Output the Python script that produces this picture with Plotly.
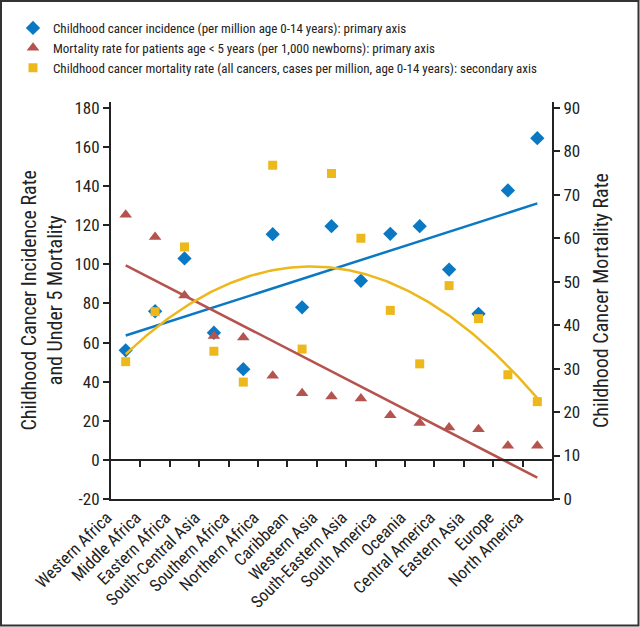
import numpy as np
import plotly.graph_objects as go

regions = ["Western Africa", "Middle Africa", "Eastern Africa", "South-Central Asia",
           "Southern Africa", "Northern Africa", "Caribbean", "Western Asia",
           "South-Eastern Asia", "South America", "Oceania", "Central America",
           "Eastern Asia", "Europe", "North America"]

incidence = [56, 76, 103, 65, 46.4, 115.4, 78, 119.5, 91.6, 115.6, 119.5, 97.3, 74.7, 137.8, 164.5]
under5_mortality = [125.3, 114, 84, 63.4, 62.6, 43, 34.1, 32.4, 31.4, 22.8, 18.8, 16.5, 15.7, 7.2, 7.2]
cancer_mortality = [31.6, 43.1, 58.0, 34.0, 26.9, 76.8, 34.5, 74.9, 60.0, 43.4, 31.1, 49.1, 41.5, 28.6, 22.4]

left_ticks = list(range(-20, 181, 20))
right_ticks = list(range(0, 91, 10))

BLUE = "#0a78c3"
RED = "#b5534f"
YELLOW = "#edb81c"
INK = "#222222"
FONT = "Roboto Condensed, DejaVu Sans Condensed, sans-serif"

W, H = 640, 627
ML, MR, MT, MB = 111, 88, 102, 128

idx = np.arange(len(regions))
fit_inc = np.polyval(np.polyfit(idx, incidence, 1), idx)
fit_u5 = np.polyval(np.polyfit(idx, under5_mortality, 1), idx)
fine = np.linspace(0, len(regions) - 1, 200)
fit_cm = np.polyval(np.polyfit(idx, cancer_mortality, 2), fine)

L_RANGE = [-20, 183]
R_RANGE = [(L_RANGE[0] + 20) * 0.45, (L_RANGE[1] + 20) * 0.45]

fig = go.Figure()

# trend lines
fig.add_trace(go.Scatter(x=idx, y=fit_inc, mode="lines", line=dict(color=BLUE, width=2.5),
                         showlegend=False, hoverinfo="skip", xaxis="x2", yaxis="y"))
fig.add_trace(go.Scatter(x=idx, y=fit_u5, mode="lines", line=dict(color=RED, width=2.5),
                         showlegend=False, hoverinfo="skip", xaxis="x2", yaxis="y"))
fig.add_trace(go.Scatter(x=fine, y=fit_cm, mode="lines", line=dict(color=YELLOW, width=2.5),
                         showlegend=False, hoverinfo="skip", xaxis="x2", yaxis="y2"))

fig.add_trace(go.Scatter(x=regions, y=incidence, mode="markers",
                         marker=dict(symbol="diamond", size=11, color=BLUE),
                         name="Childhood cancer incidence (per million age 0-14 years): primary axis",
                         xaxis="x", yaxis="y"))
fig.add_trace(go.Scatter(x=regions, y=under5_mortality, mode="markers",
                         marker=dict(symbol="triangle-up", size=11, color=RED),
                         name="Mortality rate for patients age < 5 years (per 1,000 newborns): primary axis",
                         xaxis="x", yaxis="y"))
fig.add_trace(go.Scatter(x=regions, y=cancer_mortality, mode="markers",
                         marker=dict(symbol="square", size=9, color=YELLOW),
                         name="Childhood cancer mortality rate (all cancers, cases per million, age 0-14 years): secondary axis",
                         xaxis="x", yaxis="y2"))

zero_pos = (0 - L_RANGE[0]) / (L_RANGE[1] - L_RANGE[0])

# pixel -> paper conversion for decorations
pw, ph = W - ML - MR, H - MT - MB
def px_x(p):
    return (p - ML) / pw
def px_y(p):
    return (H - MB - p) / ph

fig.add_shape(type="rect", xref="paper", yref="paper",
              x0=px_x(1), x1=px_x(W - 1.5), y0=px_y(H - 1.5), y1=px_y(1),
              line=dict(color="#333333", width=2), fillcolor="rgba(0,0,0,0)")

# left axis title
fig.add_annotation(text="Childhood Cancer Incidence Rate<br>and Under 5 Mortality",
                   xref="paper", yref="paper", x=px_x(41), y=0.5, textangle=-90,
                   showarrow=False, xanchor="center", yanchor="middle", align="center",
                   font=dict(size=20, family=FONT, color=INK))

fig.update_layout(
    width=W, height=H,
    margin=dict(l=ML, r=MR, t=MT, b=MB, autoexpand=False),
    paper_bgcolor="white", plot_bgcolor="white",
    font=dict(family=FONT, color=INK, size=15),
    showlegend=True,
    legend=dict(x=px_x(13), y=px_y(13), xanchor="left", yanchor="top",
                font=dict(size=13, family=FONT, color=INK), itemsizing="trace",
                bgcolor="rgba(0,0,0,0)"),
    xaxis=dict(type="category", categoryorder="array", categoryarray=regions,
               range=[-0.5, len(regions) - 0.5], tickangle=-45, showline=True,
               linecolor=INK, linewidth=2, ticks="", showgrid=False, zeroline=False,
               ticklabelshift=-19,
               tickfont=dict(size=17, family=FONT, color=INK)),
    xaxis2=dict(type="linear", overlaying="x", anchor="free", position=zero_pos,
                range=[-0.5, len(regions) - 0.5],
                tickvals=[i + 0.5 for i in range(len(regions) - 1)],
                ticks="outside", ticklen=6, tickwidth=1.5, tickcolor=INK,
                showticklabels=False, showline=True, linecolor=INK, linewidth=2,
                showgrid=False, zeroline=False),
    yaxis=dict(range=L_RANGE, tickvals=left_ticks, ticktext=[str(v) for v in left_ticks],
               ticks="outside", ticklen=6, tickwidth=1.5,
               tickcolor=INK, showline=True, linecolor=INK, linewidth=2,
               showgrid=False, zeroline=False, tickfont=dict(size=17, family=FONT, color=INK)),
    yaxis2=dict(range=R_RANGE, tickvals=right_ticks, overlaying="y", side="right", anchor="x",
                ticks="outside", ticklen=6, tickwidth=1.5, tickcolor=INK,
                showline=True, linecolor=INK, linewidth=2, showgrid=False, zeroline=False,
                tickfont=dict(size=17, family=FONT, color=INK),
                title=dict(text="Childhood Cancer Mortality Rate",
                           font=dict(size=20, family=FONT, color=INK))),
)

fig.write_html("out.html", config={"displayModeBar": False},
               post_script="document.body.style.margin='0';document.body.style.overflow='hidden';")
